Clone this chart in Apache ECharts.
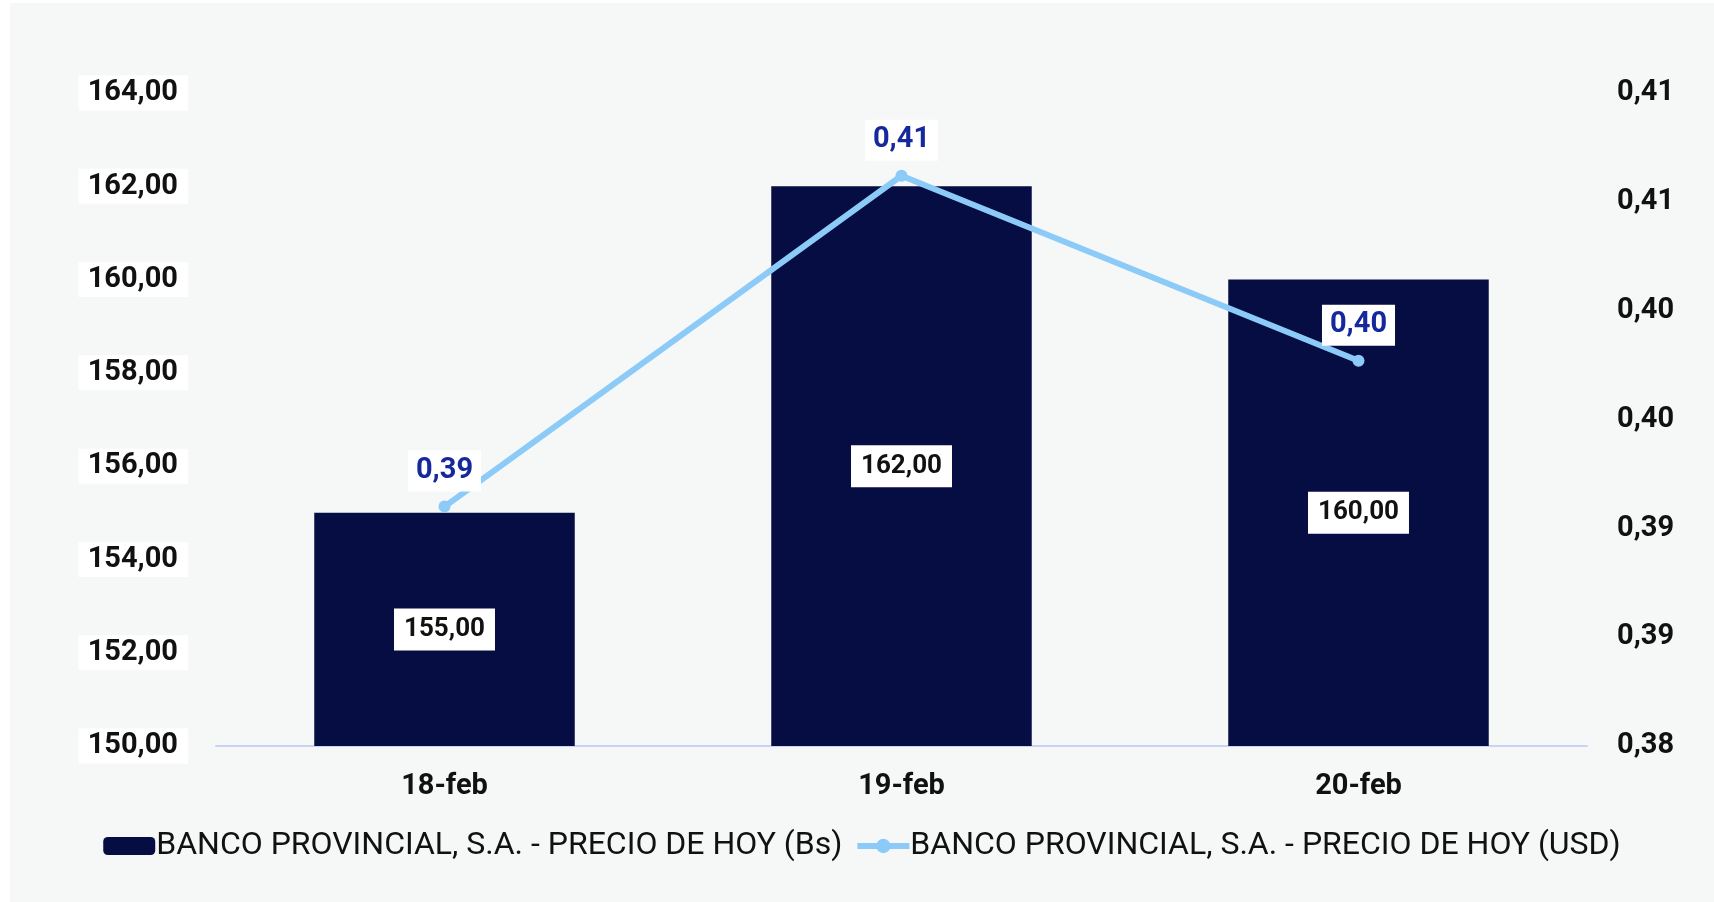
<!DOCTYPE html>
<html>
  <head>
    <meta charset="utf-8" />
    <title>Banco Provincial</title>
    <script src="https://cdn.jsdelivr.net/npm/echarts@6/dist/echarts.min.js"></script>
    <style type="text/css">
      * {
        margin: 0px;
        padding: 0px;
      }
      body {
        background-color: #ffffff;
      }
      #main {
        position: absolute;
        left: 10px;
        top: 3px;
        width: 1704px;
        height: 899px;
        background-color: #f6f8f8;
      }
    </style>
  </head>
  <body>
    <div id="main"></div>
    <script>
      // datos
      let fechas = ["18-feb", "19-feb", "20-feb"];
      let precioBs = [155, 162, 160];
      let precioUsd = [0.391, 0.4062, 0.3977];
      let nombreBs = "BANCO PROVINCIAL, S.A. - PRECIO DE HOY (Bs)";
      let nombreUsd = "BANCO PROVINCIAL, S.A. - PRECIO DE HOY (USD)";

      function coma(v, d) {
        return v.toFixed(d).replace(".", ",");
      }

      let myChart = echarts.init(document.getElementById("main"));

      let option = {
        backgroundColor: "#f6f8f8",
        animation: false,
        grid: {
          left: 206,
          right: 127,
          top: 90,
          bottom: 156
        },
        legend: {
          bottom: 35,
          left: "center",
          itemWidth: 52,
          itemHeight: 18,
          itemGap: 12,
          textStyle: {
            fontFamily: "Roboto",
            fontSize: 32,
            color: "#111111",
            padding: [0, 0, 0, -4]
          },
          data: [
            nombreBs,
            { name: nombreUsd, lineStyle: { width: 6 } }
          ]
        },
        xAxis: {
          type: "category",
          data: fechas,
          axisLine: { lineStyle: { color: "#cbd3f4", width: 2 } },
          axisTick: { show: false },
          axisLabel: {
            margin: 26,
            fontFamily: "Roboto",
            fontWeight: "bold",
            fontSize: 29,
            color: "#111111"
          }
        },
        yAxis: [
          {
            type: "value",
            min: 150,
            max: 164,
            interval: 2,
            splitLine: { show: false },
            axisLine: { show: false },
            axisTick: { show: false },
            axisLabel: {
              margin: 28,
              fontFamily: "Roboto",
              fontWeight: "bold",
              fontSize: 29,
              color: "#111111",
              backgroundColor: "#ffffff",
              padding: [3, 10, 3, 9],
              formatter: function (v) {
                return coma(v, 2);
              }
            }
          },
          {
            type: "value",
            min: 0.38,
            max: 0.41,
            interval: 0.005,
            splitLine: { show: false },
            axisLine: { show: false },
            axisTick: { show: false },
            axisLabel: {
              margin: 30,
              fontFamily: "Roboto",
              fontWeight: "bold",
              fontSize: 29,
              color: "#111111",
              formatter: function (v) {
                return coma(v, 2);
              }
            }
          }
        ],
        series: [
          {
            name: nombreBs,
            type: "bar",
            data: precioBs,
            barWidth: "57%",
            itemStyle: { color: "#050d42" },
            label: {
              show: true,
              position: "inside",
              fontFamily: "Roboto",
              fontWeight: "bold",
              fontSize: 26,
              color: "#111111",
              backgroundColor: "#ffffff",
              padding: [8, 10, 8, 10],
              formatter: function (p) {
                return coma(p.value, 2);
              }
            }
          },
          {
            name: nombreUsd,
            type: "line",
            yAxisIndex: 1,
            data: precioUsd,
            symbol: "circle",
            symbolSize: 12,
            lineStyle: { color: "#8ccaf8", width: 6 },
            itemStyle: { color: "#8ccaf8" },
            label: {
              show: true,
              position: "top",
              distance: 9,
              fontFamily: "Roboto",
              fontWeight: "bold",
              fontSize: 29,
              color: "#16299c",
              backgroundColor: "#ffffff",
              padding: [6, 8, 6, 8],
              formatter: function (p) {
                return coma(p.value, 2);
              }
            }
          }
        ]
      };

      myChart.setOption(option);
    </script>
  </body>
</html>
